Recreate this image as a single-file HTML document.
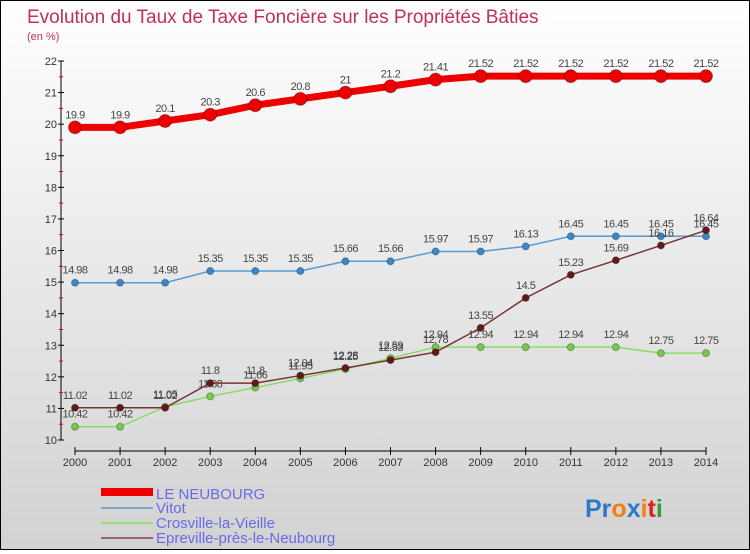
<!DOCTYPE html>
<html><head><meta charset="utf-8"><style>
body{margin:0;width:750px;height:550px;overflow:hidden;font-family:"Liberation Sans",sans-serif}
#wrap{position:relative;width:748px;height:548px;border:1px solid #000;background:linear-gradient(#fff,#d2d2d2)}
</style></head><body>
<div id="wrap">
<svg id="svg" width="748" height="548">
<text x="26" y="22" font-size="19" fill="#c0305a">Evolution du Taux de Taxe Foncière sur les Propriétés Bâties</text>
<text x="26" y="39" font-size="11" fill="#c0305a">(en %)</text>
<g id="axes"></g><g id="series"></g>
<g>
<rect x="100" y="487" width="52" height="8" fill="#e00"/>
<text x="155" y="498" font-size="15" fill="#6a6ae8">LE NEUBOURG</text>
<line x1="100" y1="507" x2="152" y2="507" stroke="#7aa8cc" stroke-width="2"/>
<text x="155" y="512" font-size="15" fill="#6a6ae8">Vitot</text>
<line x1="100" y1="522" x2="152" y2="522" stroke="#99dd77" stroke-width="2"/>
<text x="155" y="527" font-size="15" fill="#6a6ae8">Crosville-la-Vieille</text>
<line x1="100" y1="537" x2="152" y2="537" stroke="#996666" stroke-width="2"/>
<text x="155" y="542" font-size="15" fill="#6a6ae8">Epreville-près-le-Neubourg</text>
</g>
<text x="584" y="516" font-size="25" font-weight="bold"><tspan fill="#2a7ac8">Pr</tspan><tspan fill="#f08010">o</tspan><tspan fill="#2a7ac8">x</tspan><tspan fill="#f08010">i</tspan><tspan fill="#e02020">t</tspan><tspan fill="#30a030">i</tspan></text>
</svg></div>
<script>
const years=[2000,2001,2002,2003,2004,2005,2006,2007,2008,2009,2010,2011,2012,2013,2014];
const yTicks=[10,11,12,13,14,15,16,17,18,19,20,21,22];
const neubourg=[19.9,19.9,20.1,20.3,20.6,20.8,21,21.2,21.41,21.52,21.52,21.52,21.52,21.52,21.52];
const vitot=[14.98,14.98,14.98,15.35,15.35,15.35,15.66,15.66,15.97,15.97,16.13,16.45,16.45,16.45,16.45];
const crosville=[10.42,10.42,11.05,11.38,11.66,11.95,12.25,12.59,12.94,12.94,12.94,12.94,12.94,12.75,12.75];
const epreville=[11.02,11.02,11.02,11.8,11.8,12.04,12.28,12.53,12.78,13.55,14.5,15.23,15.69,16.16,16.64];
const NS="http://www.w3.org/2000/svg";
const X=i=>74+i*(631/14), Y=v=>439-(v-10)*(379/12);
function mk(t,a,p){const e=document.createElementNS(NS,t);for(const k in a)e.setAttribute(k,a[k]);p.appendChild(e);return e;}
const ax=document.getElementById('axes');
const yl=mk('line',{x1:60,y1:Y(22),x2:60,y2:Y(10),stroke:'#000'},ax);


yTicks.forEach(v=>{mk('line',{x1:57,x2:63,y1:Y(v),y2:Y(v),stroke:'#000'},ax);
 if(v<22)mk('line',{x1:58,x2:62,y1:Y(v+0.5),y2:Y(v+0.5),stroke:'#e00'},ax);
 const t=mk('text',{x:56,y:Y(v)+4,'font-size':11,fill:'#333','text-anchor':'end'},ax);t.textContent=v;
 
 });
const xl=mk('line',{x1:X(0),y1:450,x2:X(14),y2:450,stroke:'#000'},ax);


years.forEach((y,i)=>{mk('line',{x1:X(i),x2:X(i),y1:446,y2:454,stroke:'#000'},ax);
 const t=mk('text',{x:X(i),y:465,'font-size':11,fill:'#333','text-anchor':'middle'},ax);t.textContent=y;
 
 });
const sg=document.getElementById('series');
function draw(vals,name,color,lw,r,pc){
 const g=mk('g',{},sg);
 
 
 mk('polyline',{points:vals.map((v,i)=>X(i)+','+Y(v)).join(' '),fill:'none',stroke:color,'stroke-width':lw},g);
 vals.forEach((v,i)=>{const c=mk('circle',{cx:X(i),cy:Y(v),r:r,fill:pc,stroke:'rgba(0,0,0,0.3)'},g);
  
  
  const t=mk('text',{x:X(i),y:Y(v)-9,'font-size':11,fill:'#444','text-anchor':'middle','letter-spacing':'-0.5'},g);t.textContent=v;});
}
draw(vitot,'vitot','#5a9acc',1.5,3.5,'#3a88cc');
draw(crosville,'crosville','#88dd66',1.5,3.5,'#77cc44');
draw(epreville,'epreville','#773333',1.5,3.5,'#661818');
draw(neubourg,'le-neubourg','#e00',7,6.5,'#e00');
</script>
</body></html>
